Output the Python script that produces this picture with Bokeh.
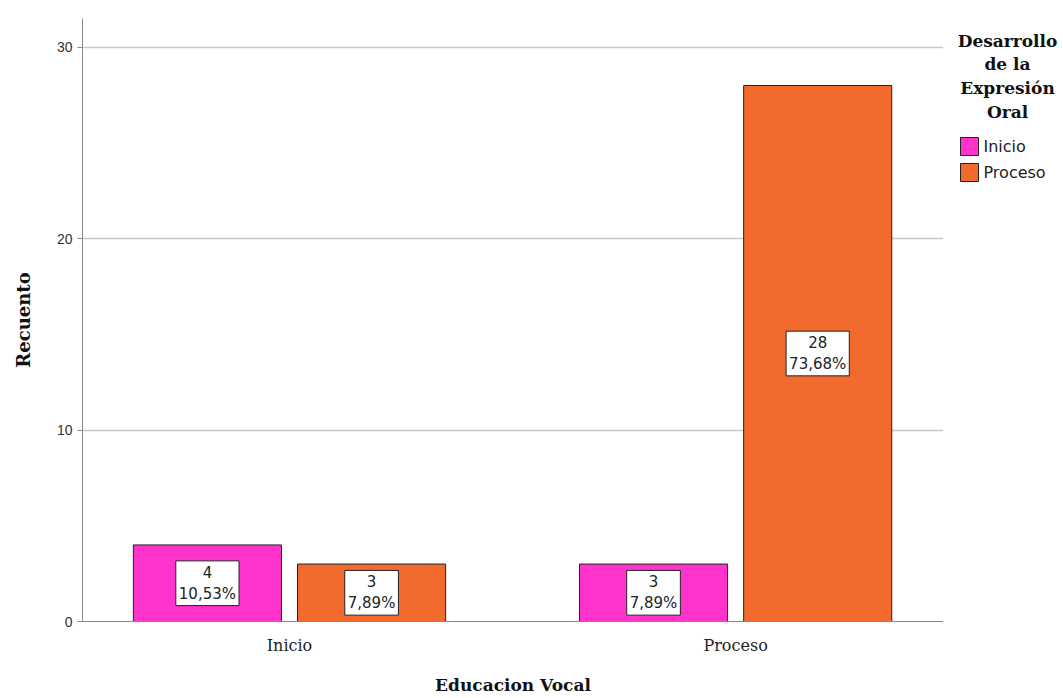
from bokeh.plotting import figure
from bokeh.layouts import row
from bokeh.models import Range1d, FixedTicker, ColumnDataSource
from bokeh.core.properties import value
from bokeh.embed import file_html
from bokeh.resources import INLINE

categories = ["Inicio", "Proceso"]
series = ["Inicio", "Proceso"]
counts_inicio = [4, 3]
counts_proceso = [3, 28]
pct_inicio = ["10,53%", "7,89%"]
pct_proceso = ["7,89%", "73,68%"]
colors = ["#ff33cc", "#f26a2e"]
legend_title = ["Desarrollo", "de la", "Expresión", "Oral"]

group_x = [1, 2]
offset = 0.184
bw = 0.332

SERIF = "DejaVu Serif"

p = figure(width=943, height=698, output_backend="svg", toolbar_location=None,
           x_range=Range1d(0.536, 2.466), y_range=Range1d(0, 31.5),
           min_border_left=82, min_border_right=0, min_border_top=18, min_border_bottom=77)
p.outline_line_color = None
p.xgrid.grid_line_color = None
p.ygrid.grid_line_color = "#c8c8c8"
p.ygrid.grid_line_width = 1.5

for i, (vals, pcts) in enumerate([(counts_inicio, pct_inicio), (counts_proceso, pct_proceso)]):
    xs = [g + (-offset if i == 0 else offset) for g in group_x]
    src = ColumnDataSource(dict(x=xs, top=vals, mid=[v / 2 for v in vals],
                                lab=[f"{v}\n{pc}" for v, pc in zip(vals, pcts)]))
    p.vbar(x="x", top="top", bottom=0, width=bw, source=src, fill_color=colors[i],
           line_color="#222222", line_width=1)
    p.text(x="x", y="mid", text="lab", source=src, text_align="center", text_baseline="middle",
           text_font=value("DejaVu Sans"), text_font_size="15px", text_color="#222222",
           text_line_height=1.15,
           background_fill_color="white", border_line_color="#222222", border_line_width=1,
           padding=3)

p.yaxis.ticker = FixedTicker(ticks=[0, 10, 20, 30])
p.yaxis.major_label_text_font = "Liberation Sans"
p.yaxis.major_label_text_font_size = "14px"
p.yaxis.major_label_text_color = "#333333"
p.yaxis.axis_line_color = "#888888"
p.yaxis.major_tick_line_color = "#888888"
p.yaxis.major_tick_out = 5
p.yaxis.major_tick_in = 0
p.yaxis.minor_tick_line_color = None
p.yaxis.axis_label = "Recuento"
p.yaxis.axis_label_text_font = SERIF
p.yaxis.axis_label_text_font_style = "bold"
p.yaxis.axis_label_text_font_size = "18px"
p.yaxis.axis_label_text_color = "#111111"
p.yaxis.axis_label_standoff = 20

p.xaxis.ticker = FixedTicker(ticks=group_x)
p.xaxis.major_label_overrides = {g: c for g, c in zip(group_x, categories)}
p.xaxis.major_label_text_font = SERIF
p.xaxis.major_label_text_font_size = "16px"
p.xaxis.major_label_text_color = "#222222"
p.xaxis.major_label_standoff = 8
p.xaxis.axis_line_color = "#888888"
p.xaxis.major_tick_line_color = None
p.xaxis.minor_tick_line_color = None
p.xaxis.axis_label = "Educacion Vocal"
p.xaxis.axis_label_text_font = SERIF
p.xaxis.axis_label_text_font_style = "bold"
p.xaxis.axis_label_text_font_size = "17px"
p.xaxis.axis_label_text_color = "#111111"
p.xaxis.axis_label_standoff = 17

# legend panel (canvas pixel coordinates, y downward; frame aligned to main frame 18..621)
lg = figure(width=120, height=698, output_backend="svg", toolbar_location=None,
            x_range=Range1d(0, 120), y_range=Range1d(621, 18),
            min_border_left=0, min_border_right=0, min_border_top=18, min_border_bottom=77)
lg.axis.visible = False
lg.grid.visible = False
lg.outline_line_color = None

tsrc = ColumnDataSource(dict(x=[64] * len(legend_title), y=[40, 63, 87, 111], t=legend_title))
lg.text(x="x", y="y", text="t", source=tsrc, text_align="center", text_baseline="middle",
        text_font=value(SERIF), text_font_style="bold",
        text_font_size="17px", text_color="#111111")

isrc = ColumnDataSource(dict(x=[26, 26], y=[146, 172], c=colors, t=series, tx=[40, 40]))
lg.rect(x="x", y="y", width=18, height=18, source=isrc, fill_color="c",
        line_color="#222222", line_width=1)
lg.text(x="tx", y="y", text="t", source=isrc, text_align="left", text_baseline="middle",
        text_font=value("DejaVu Sans"), text_font_size="16px", text_color="#222222")

layout = row(p, lg)
open("out.html", "w").write(file_html(layout, INLINE))
